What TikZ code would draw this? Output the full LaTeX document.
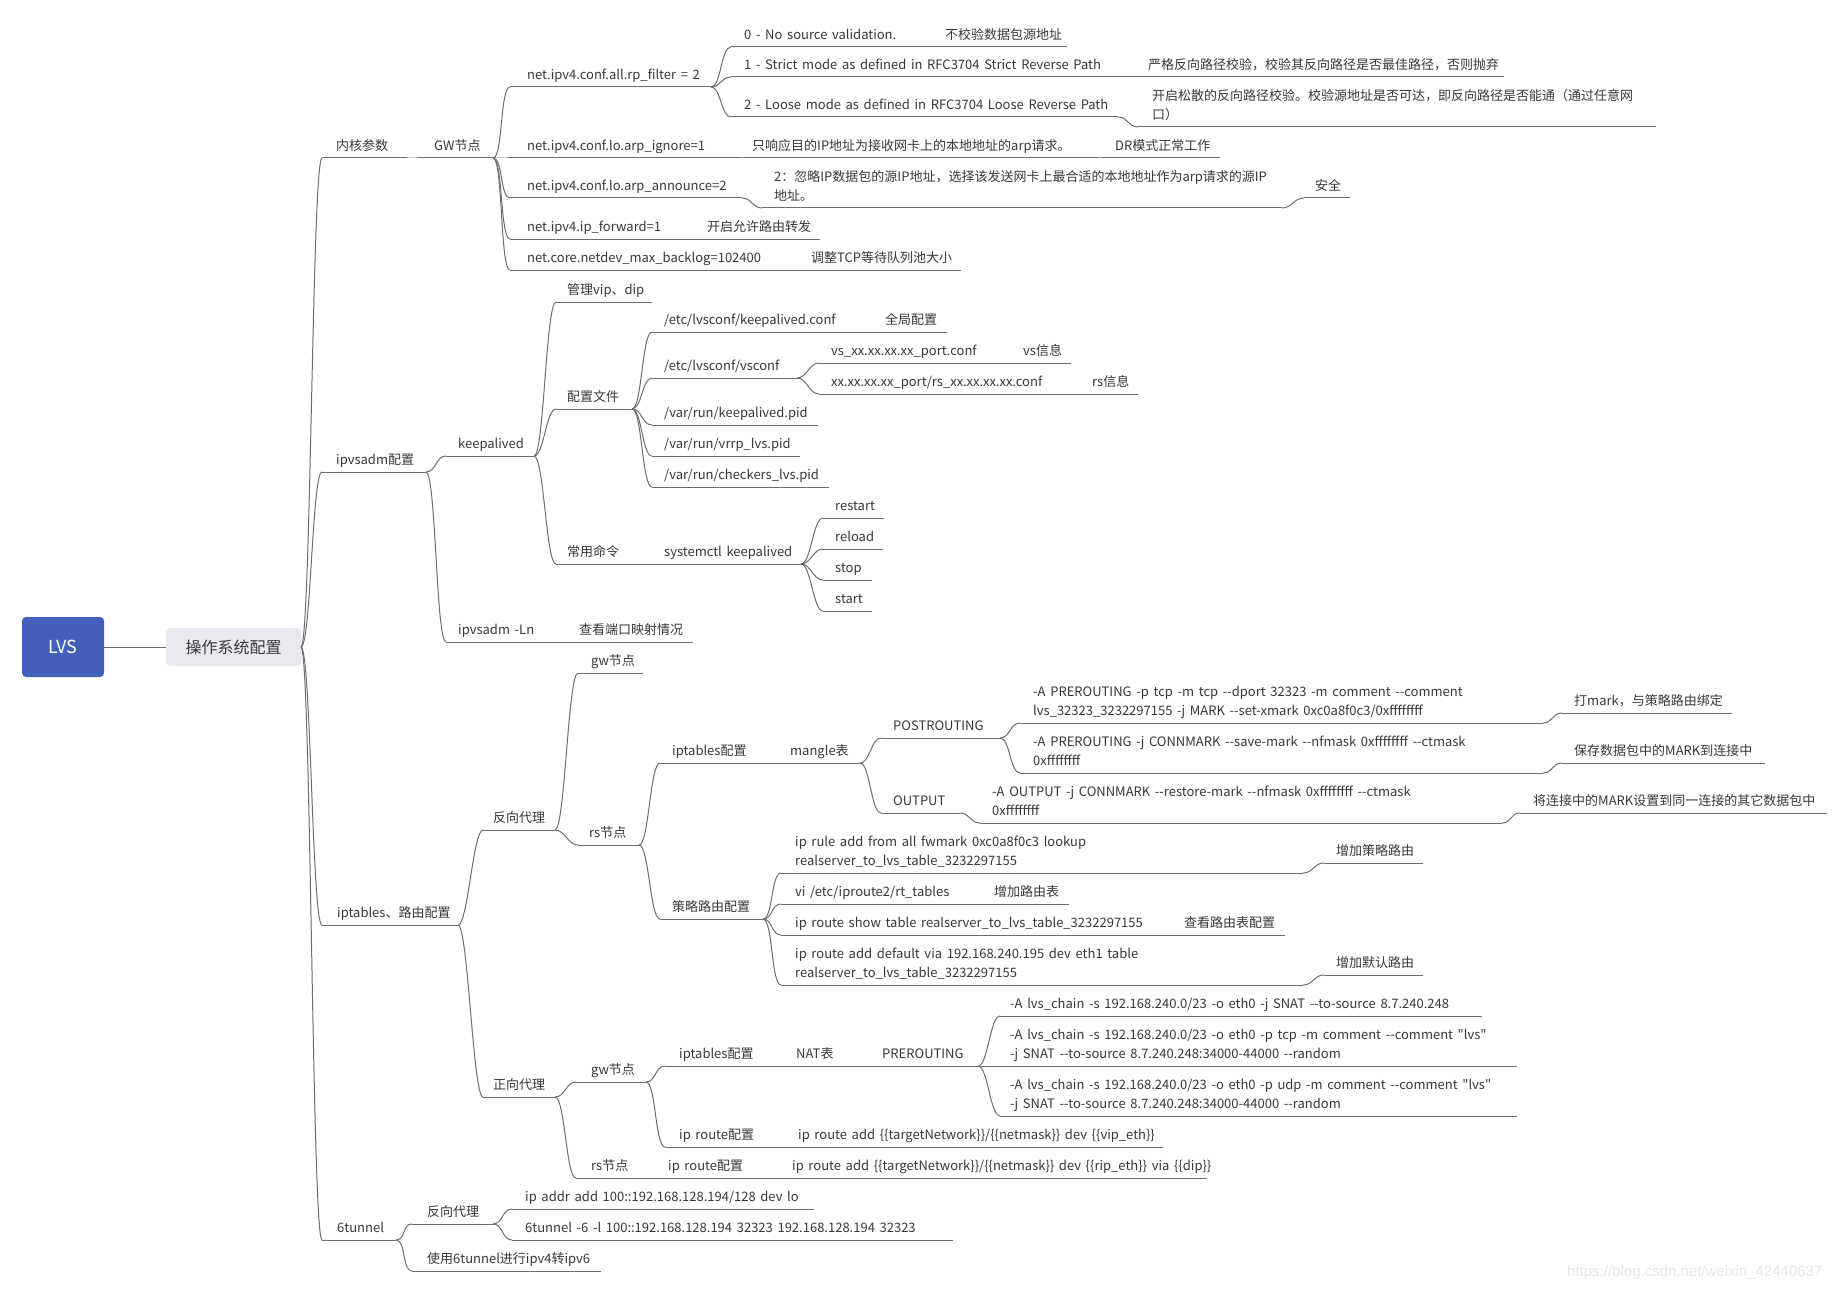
\documentclass[tikz,border=0pt]{standalone}
\usepackage{fontspec}
\newfontfamily\cjkf[WordSpace=1.6]{Noto Sans CJK SC}
\newfontfamily\wmfont{Liberation Sans}
\definecolor{linec}{HTML}{6E6E6E}
\definecolor{textc}{HTML}{383838}
\definecolor{lvsblue}{HTML}{4361BA}
\definecolor{mainfill}{HTML}{E8EAF0}
\tikzset{
  txt/.style={anchor=south west, inner sep=0pt, font=\cjkf\fontsize{13}{19}\selectfont, text=textc, align=left, execute at end node=\strut},
  uline/.style={draw=linec, line width=1pt},
  conn/.style={draw=linec, line width=1pt},
  br/.style={to path={.. controls +(10,0) and +(-10,0) .. (\tikztotarget)}},
}
\newcommand\mmnode[6]{%
  \coordinate (#1-s) at (#2,#4);
  \coordinate (#1-e) at (#3,#4);
  \draw[uline] (#1-s) -- (#1-e);
  \node[txt] (#1) at (#5,#4-1.3) {#6};}
\newcommand\mmlink[2]{\draw[conn] (#1-e) to[br] (#2-s);}
\begin{document}
\begin{tikzpicture}[x=1pt,y=-1pt]
\useasboundingbox (0,0) rectangle (1847,1292);
\fill[white] (0,0) rectangle (1847,1292);
% root
\node[fill=lvsblue, rounded corners=4pt, minimum width=82pt, minimum height=60pt, inner sep=0pt, text=white, font=\cjkf\fontsize{18}{20}\selectfont] (lvs) at (63,647) {LVS};
\node[fill=mainfill, rounded corners=4pt, minimum width=135pt, minimum height=38pt, inner sep=0pt, text=textc, font=\cjkf\fontsize{16}{18}\selectfont] (main) at (233.5,647) {操作系统配置};
\draw[conn] (lvs.east) -- (main.west);
\coordinate (main-e) at (301,647);
% level 2
\mmnode{nh}{322}{405}{158}{336}{内核参数}
\mmnode{gw}{420}{493}{158}{434}{GW节点}
\mmnode{ipv}{322}{426}{472}{336}{ipvsadm配置}
\mmnode{ipt}{322}{458}{925}{337}{iptables、路由配置}
\mmnode{st}{322}{396}{1240}{337}{6tunnel}
\mmlink{main}{nh}\mmlink{main}{ipv}\mmlink{main}{ipt}\mmlink{main}{st}
\mmlink{nh}{gw}
% GW node
\mmnode{rp}{510}{711}{87}{527}{net.ipv4.conf.all.rp\_filter = 2}
\mmnode{ig}{510}{740}{158}{527}{net.ipv4.conf.lo.arp\_ignore=1}
\mmnode{igA}{745}{1097}{158}{752}{只响应目的IP地址为接收网卡上的本地地址的arp请求。}
\mmnode{igB}{1103}{1220}{158}{1115}{DR模式正常工作}
\mmnode{an}{510}{742}{198}{527}{net.ipv4.conf.lo.arp\_announce=2}
\mmnode{anA}{762}{1282}{208}{774}{2：忽略IP数据包的源IP地址，选择该发送网卡上最合适的本地地址作为arp请求的源IP\\地址。}
\mmnode{anB}{1304}{1350}{198}{1315}{安全}
\mmnode{fw}{510}{695}{239}{527}{net.ipv4.ip\_forward=1}
\mmnode{fwA}{698}{820}{239}{707}{开启允许路由转发}
\mmnode{bl}{510}{800}{270}{527}{net.core.netdev\_max\_backlog=102400}
\mmnode{blA}{803}{961}{270}{811}{调整TCP等待队列池大小}
\mmlink{gw}{rp}\mmlink{gw}{ig}\mmlink{gw}{an}\mmlink{gw}{fw}\mmlink{gw}{bl}
\mmlink{ig}{igA}\mmlink{igA}{igB}\mmlink{an}{anA}\mmlink{anA}{anB}
\mmlink{fw}{fwA}\mmlink{bl}{blA}
\mmnode{r0}{731}{935}{47}{744}{0 - No source validation.}
\mmnode{r0A}{938}{1067}{47}{945}{不校验数据包源地址}
\mmnode{r1}{731}{1135}{77}{744}{1 - Strict mode as defined in RFC3704 Strict Reverse Path}
\mmnode{r1A}{1138}{1504}{77}{1148}{严格反向路径校验，校验其反向路径是否最佳路径，否则抛弃}
\mmnode{r2}{731}{1118}{117}{744}{2 - Loose mode as defined in RFC3704 Loose Reverse Path}
\mmnode{r2A}{1138}{1656}{127}{1152}{开启松散的反向路径校验。校验源地址是否可达，即反向路径是否能通（通过任意网\\口）}
\mmlink{rp}{r0}\mmlink{rp}{r1}\mmlink{rp}{r2}
\mmlink{r0}{r0A}\mmlink{r1}{r1A}\mmlink{r2}{r2A}
% ipvsadm
\mmnode{kp}{446}{534}{456}{458}{keepalived}
\mmnode{ln}{446}{570}{642}{458}{ipvsadm -Ln}
\mmnode{lnA}{572}{693}{642}{579}{查看端口映射情况}
\mmlink{ipv}{kp}\mmlink{ipv}{ln}\mmlink{ln}{lnA}
\mmnode{vip}{556}{652}{302}{567}{管理vip、dip}
\mmnode{cf}{556}{632}{409}{567}{配置文件}
\mmnode{cmd}{556}{655}{564}{567}{常用命令}
\mmnode{sys}{656}{801}{564}{664}{systemctl keepalived}
\mmlink{kp}{vip}\mmlink{kp}{cf}\mmlink{kp}{cmd}\mmlink{cmd}{sys}
\mmnode{kc}{652}{875}{332}{664}{/etc/lvsconf/keepalived.conf}
\mmnode{kcA}{877}{947}{332}{885}{全局配置}
\mmnode{vc}{652}{797}{378}{664}{/etc/lvsconf/vsconf}
\mmnode{vs}{819}{1012}{363}{831}{vs\_xx.xx.xx.xx\_port.conf}
\mmnode{vsA}{1014}{1071}{363}{1023}{vs信息}
\mmnode{rsf}{819}{1082}{394}{831}{xx.xx.xx.xx\_port/rs\_xx.xx.xx.xx.conf}
\mmnode{rsfA}{1084}{1138}{394}{1092}{rs信息}
\mmnode{kpid}{652}{818}{425}{664}{/var/run/keepalived.pid}
\mmnode{vpid}{652}{800}{456}{664}{/var/run/vrrp\_lvs.pid}
\mmnode{cpid}{652}{829}{487}{664}{/var/run/checkers\_lvs.pid}
\mmlink{cf}{kc}\mmlink{cf}{vc}\mmlink{cf}{kpid}\mmlink{cf}{vpid}\mmlink{cf}{cpid}
\mmlink{kc}{kcA}\mmlink{vc}{vs}\mmlink{vc}{rsf}\mmlink{vs}{vsA}\mmlink{rsf}{rsfA}
\mmnode{rst}{823}{884}{518}{835}{restart}
\mmnode{rld}{823}{883}{549}{835}{reload}
\mmnode{stp}{823}{872}{580}{835}{stop}
\mmnode{sta}{823}{872}{611}{835}{start}
\mmlink{sys}{rst}\mmlink{sys}{rld}\mmlink{sys}{stp}\mmlink{sys}{sta}
% iptables
\mmnode{fx}{483}{555}{830}{493}{反向代理}
\mmnode{zx}{483}{555}{1097}{493}{正向代理}
\mmlink{ipt}{fx}\mmlink{ipt}{zx}
\mmnode{gw1}{578}{643}{673}{591}{gw节点}
\mmnode{rs1}{578}{639}{845}{589}{rs节点}
\mmlink{fx}{gw1}\mmlink{fx}{rs1}
\mmnode{it1}{660}{782}{763}{672}{iptables配置}
\mmnode{mg}{784}{860}{763}{790}{mangle表}
\mmnode{po}{881}{1000}{738}{893}{POSTROUTING}
\mmnode{ou}{881}{960}{813}{893}{OUTPUT}
\mmlink{rs1}{it1}\mmlink{it1}{mg}\mmlink{mg}{po}\mmlink{mg}{ou}
\mmnode{m1}{1020}{1543}{723}{1033}{-A PREROUTING -p tcp -m tcp --dport 32323 -m comment --comment\\lvs\_32323\_3232297155 -j MARK --set-xmark 0xc0a8f0c3/0xffffffff}
\mmnode{m1A}{1562}{1732}{713}{1574}{打mark，与策略路由绑定}
\mmnode{m2}{1020}{1543}{773}{1033}{-A PREROUTING -j CONNMARK --save-mark --nfmask 0xffffffff --ctmask\\0xffffffff}
\mmnode{m2A}{1562}{1765}{763}{1574}{保存数据包中的MARK到连接中}
\mmnode{o1}{980}{1502}{823}{992}{-A OUTPUT -j CONNMARK --restore-mark --nfmask 0xffffffff --ctmask\\0xffffffff}
\mmnode{o1A}{1520}{1827}{813}{1533}{将连接中的MARK设置到同一连接的其它数据包中}
\mmlink{po}{m1}\mmlink{po}{m2}\mmlink{m1}{m1A}\mmlink{m2}{m2A}
\mmlink{ou}{o1}\mmlink{o1}{o1A}
\mmnode{pr}{660}{763}{919}{672}{策略路由配置}
\mmlink{rs1}{pr}
\mmnode{p1}{781}{1303}{873}{795}{ip rule add from all fwmark 0xc0a8f0c3 lookup\\realserver\_to\_lvs\_table\_3232297155}
\mmnode{p1A}{1324}{1423}{863}{1336}{增加策略路由}
\mmnode{p2}{781}{985}{904}{795}{vi /etc/iproute2/rt\_tables}
\mmnode{p2A}{988}{1069}{904}{994}{增加路由表}
\mmnode{p3}{781}{1175}{935}{795}{ip route show table realserver\_to\_lvs\_table\_3232297155}
\mmnode{p3A}{1178}{1285}{935}{1184}{查看路由表配置}
\mmnode{p4}{781}{1303}{985}{795}{ip route add default via 192.168.240.195 dev eth1 table\\realserver\_to\_lvs\_table\_3232297155}
\mmnode{p4A}{1324}{1423}{975}{1336}{增加默认路由}
\mmlink{pr}{p1}\mmlink{pr}{p2}\mmlink{pr}{p3}\mmlink{pr}{p4}
\mmlink{p1}{p1A}\mmlink{p2}{p2A}\mmlink{p3}{p3A}\mmlink{p4}{p4A}
% forward proxy
\mmnode{gw2}{576}{646}{1082}{591}{gw节点}
\mmnode{rs2}{576}{660}{1178}{591}{rs节点}
\mmnode{rs2A}{662}{785}{1178}{668}{ip route配置}
\mmnode{rs2B}{787}{1207}{1178}{792}{ip route add \{\{targetNetwork\}\}/\{\{netmask\}\} dev \{\{rip\_eth\}\} via \{\{dip\}\}}
\mmlink{zx}{gw2}\mmlink{zx}{rs2}\mmlink{rs2}{rs2A}\mmlink{rs2A}{rs2B}
\mmnode{it2}{665}{786}{1066}{679}{iptables配置}
\mmnode{nat}{788}{872}{1066}{796}{NAT表}
\mmnode{pre}{874}{978}{1066}{882}{PREROUTING}
\mmnode{s1}{1000}{1482}{1016}{1010}{-A lvs\_chain -s 192.168.240.0/23 -o eth0 -j SNAT --to-source 8.7.240.248}
\mmnode{s2}{1000}{1517}{1066}{1010}{-A lvs\_chain -s 192.168.240.0/23 -o eth0 -p tcp -m comment --comment "lvs"\\-j SNAT --to-source 8.7.240.248:34000-44000 --random}
\mmnode{s3}{1000}{1517}{1116}{1010}{-A lvs\_chain -s 192.168.240.0/23 -o eth0 -p udp -m comment --comment "lvs"\\-j SNAT --to-source 8.7.240.248:34000-44000 --random}
\mmnode{rt2}{665}{790}{1147}{679}{ip route配置}
\mmnode{rt2A}{792}{1163}{1147}{798}{ip route add \{\{targetNetwork\}\}/\{\{netmask\}\} dev \{\{vip\_eth\}\}}
\mmlink{gw2}{it2}\mmlink{gw2}{rt2}\mmlink{it2}{nat}\mmlink{nat}{pre}
\mmlink{pre}{s1}\mmlink{pre}{s2}\mmlink{pre}{s3}\mmlink{rt2}{rt2A}
% 6tunnel
\mmnode{t1}{412}{493}{1224}{427}{反向代理}
\mmnode{t2}{412}{601}{1271}{427}{使用6tunnel进行ipv4转ipv6}
\mmnode{t1a}{512}{814}{1209}{525}{ip addr add 100::192.168.128.194/128 dev lo}
\mmnode{t1b}{512}{953}{1240}{525}{6tunnel -6 -l 100::192.168.128.194 32323 192.168.128.194 32323}
\mmlink{st}{t1}\mmlink{st}{t2}\mmlink{t1}{t1a}\mmlink{t1}{t1b}
% watermark
\node[anchor=west, inner sep=0pt, text=black!9, font=\wmfont\fontsize{15}{17}\selectfont] (wm) at (1567,1273) {https://blog.csdn.net/weixin\_42440637};
\end{tikzpicture}
\end{document}
